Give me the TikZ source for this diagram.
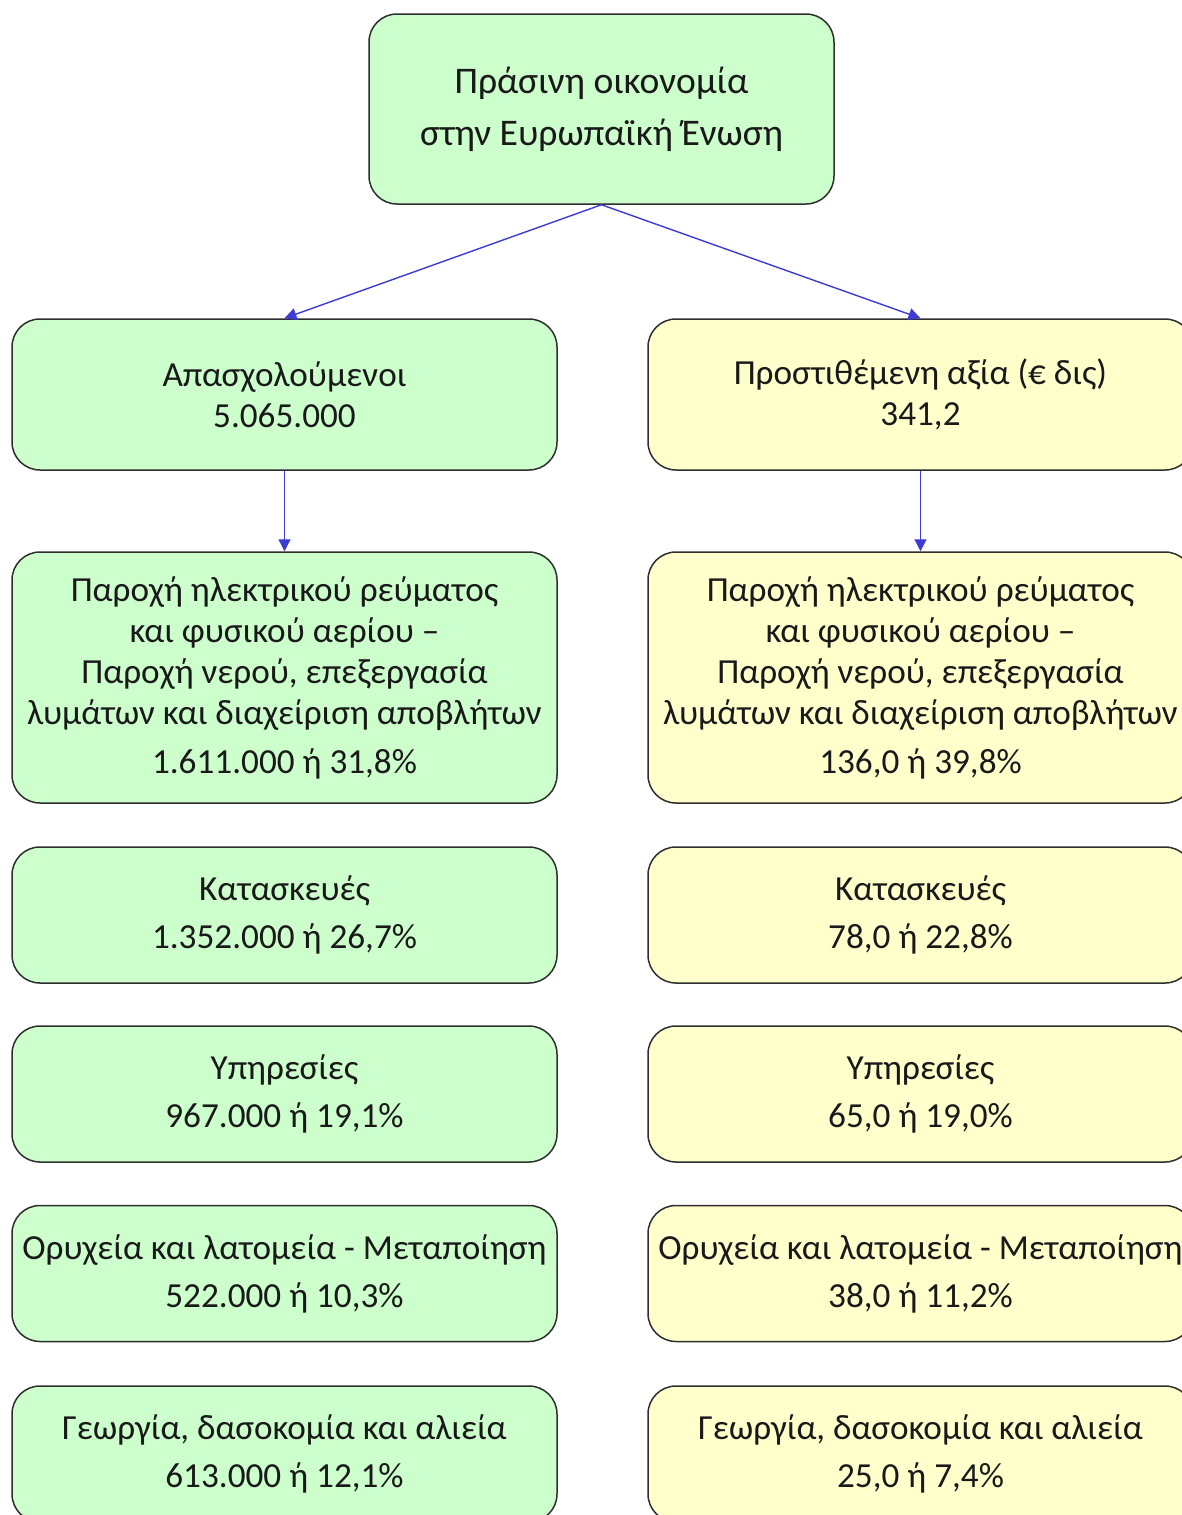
\documentclass[tikz,border=0pt]{standalone}
\usepackage{fontspec}
\setmainfont{Carlito}
\usetikzlibrary{arrows.meta}
\definecolor{boxgreen}{HTML}{CCFFCC}
\definecolor{boxyellow}{HTML}{FFFFCC}
\definecolor{boxline}{HTML}{2E2E2E}
\definecolor{linkblue}{HTML}{3C3CD2}
\begin{document}
\begin{tikzpicture}[x=0.5pt,y=-0.5pt,
  card/.style={draw=boxline, line width=0.75pt, rounded corners=14pt,
    minimum width=272.5pt, align=center, inner sep=0pt,
    text=black!90, font=\fontsize{17.6}{20.5}\selectfont},
  green/.style={card, fill=boxgreen},
  yellow/.style={card, fill=boxyellow},
  link/.style={draw=linkblue, line width=0.7pt,
    -{Triangle[length=6pt,width=6pt]}}]
\useasboundingbox (0,0) rectangle (1182,1515);
\clip (0,0) rectangle (1182,1515);

% root
\node[green, minimum width=232.5pt, minimum height=95pt,
  font=\fontsize{18.8}{26}\selectfont] (root) at (601.5,109)
  {Πράσινη οικονομία\\στην Ευρωπαϊκή Ένωση};

% level 1
\node[green, minimum height=75.5pt] (emp) at (284.5,394.5)
  {Απασχολούμενοι\\5.065.000};
\node[yellow, minimum height=75.5pt] (gva) at (920.5,394.5)
  {Προστιθέμενη αξία (€ δις)\\341,2};

% sectors, employment
\node[green, minimum height=125.5pt] (e1) at (284.5,677.5)
  {Παροχή ηλεκτρικού ρεύματος\\και φυσικού αερίου –\\Παροχή νερού, επεξεργασία\\λυμάτων και διαχείριση αποβλήτων\\[4pt]1.611.000 ή 31,8\%};
\node[green, minimum height=68pt] (e2) at (284.5,915)
  {Κατασκευές\\[3.5pt]1.352.000 ή 26,7\%};
\node[green, minimum height=68pt] (e3) at (284.5,1094)
  {Υπηρεσίες\\[3.5pt]967.000 ή 19,1\%};
\node[green, minimum height=68pt] (e4) at (284.5,1273.5)
  {Ορυχεία και λατομεία - Μεταποίηση\\[3.5pt]522.000 ή 10,3\%};
\node[green, minimum height=68pt] (e5) at (284.5,1454)
  {Γεωργία, δασοκομία και αλιεία\\[3.5pt]613.000 ή 12,1\%};

% sectors, value added
\node[yellow, minimum height=125.5pt] (v1) at (920.5,677.5)
  {Παροχή ηλεκτρικού ρεύματος\\και φυσικού αερίου –\\Παροχή νερού, επεξεργασία\\λυμάτων και διαχείριση αποβλήτων\\[4pt]136,0 ή 39,8\%};
\node[yellow, minimum height=68pt] (v2) at (920.5,915)
  {Κατασκευές\\[3.5pt]78,0 ή 22,8\%};
\node[yellow, minimum height=68pt] (v3) at (920.5,1094)
  {Υπηρεσίες\\[3.5pt]65,0 ή 19,0\%};
\node[yellow, minimum height=68pt] (v4) at (920.5,1273.5)
  {Ορυχεία και λατομεία - Μεταποίηση\\[3.5pt]38,0 ή 11,2\%};
\node[yellow, minimum height=68pt] (v5) at (920.5,1454)
  {Γεωργία, δασοκομία και αλιεία\\[3.5pt]25,0 ή 7,4\%};

% connectors
\draw[link] (root.south) -- (emp.north);
\draw[link] (root.south) -- (gva.north);
\draw[link] (emp.south) -- (e1.north);
\draw[link] (gva.south) -- (v1.north);
\end{tikzpicture}
\end{document}
